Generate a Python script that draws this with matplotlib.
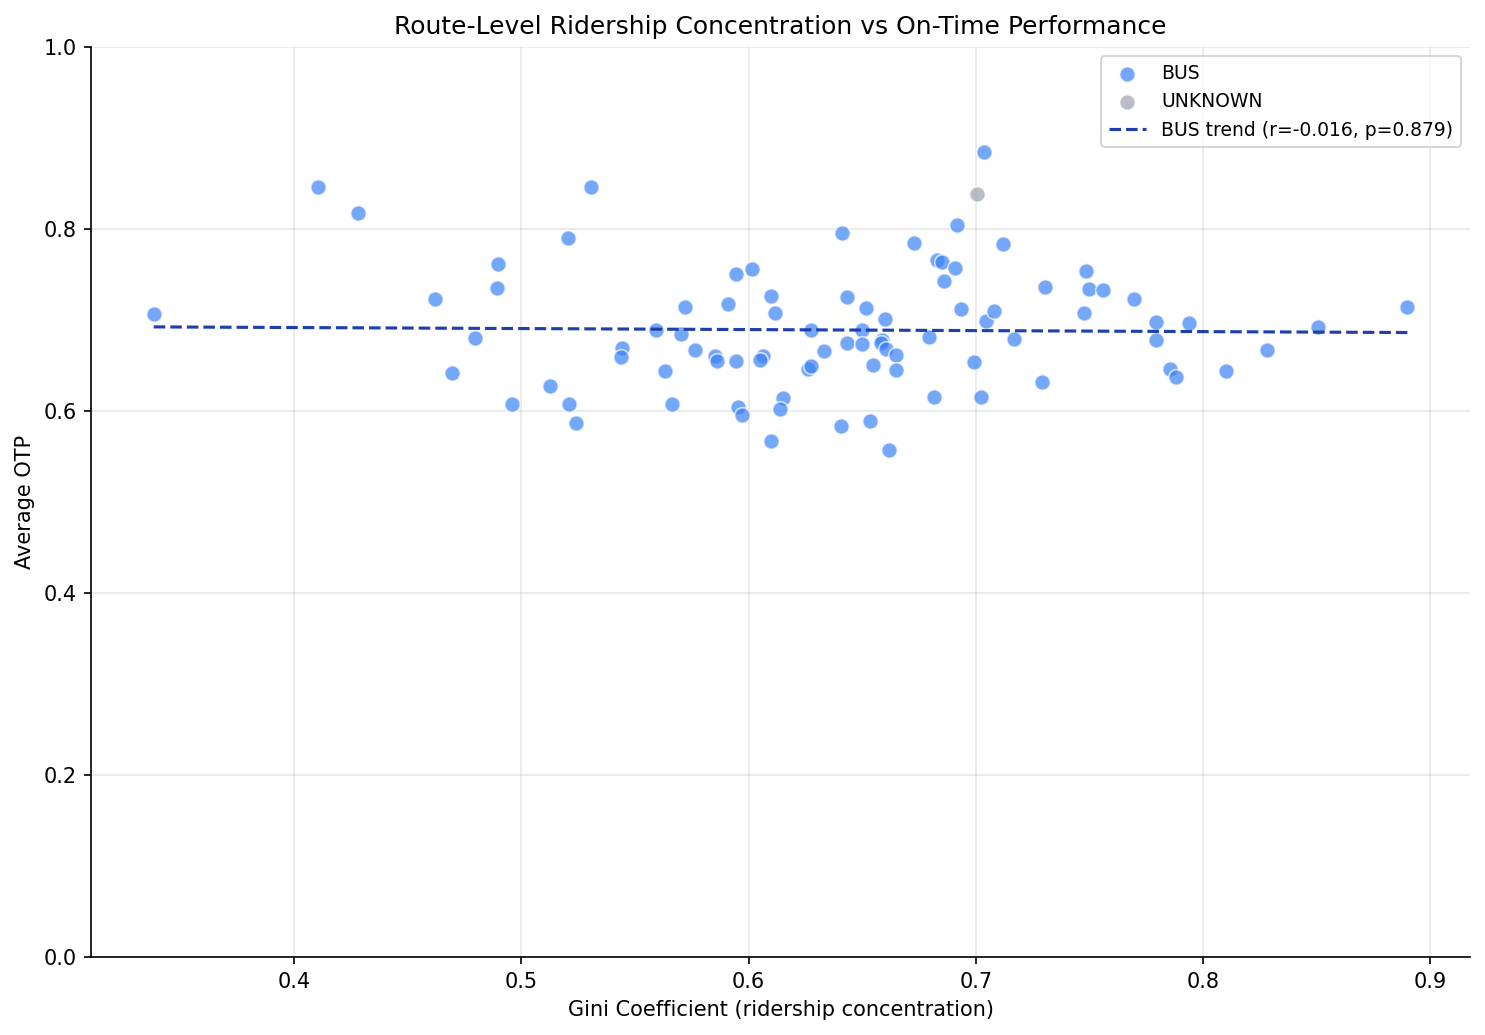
import numpy as np
import matplotlib
matplotlib.use("Agg")
import matplotlib.pyplot as plt

# Gini coefficient vs average on-time performance, one point per route
bus_gini = [0.3382, 0.4106, 0.4282, 0.4618, 0.4895, 0.4891, 0.4794, 0.4693, 0.4958, 0.5125,
            0.5209, 0.5240, 0.5204, 0.5306, 0.5442, 0.5438, 0.5592, 0.5632, 0.5663, 0.5703,
            0.5720, 0.5764, 0.5853, 0.5862, 0.5910, 0.5945, 0.5945, 0.5954, 0.5972, 0.6016,
            0.6064, 0.6051, 0.6100, 0.6117, 0.6153, 0.6140, 0.6100, 0.6260, 0.6276, 0.6276,
            0.6333, 0.6413, 0.6431, 0.6435, 0.6408, 0.6497, 0.6497, 0.6515, 0.6533, 0.6546,
            0.6599, 0.6586, 0.6582, 0.6604, 0.6648, 0.6648, 0.6617, 0.6730, 0.6795, 0.6818,
            0.6829, 0.6851, 0.6862, 0.6910, 0.6915, 0.6933, 0.6994, 0.7038, 0.7021, 0.7046,
            0.7082, 0.7118, 0.7170, 0.7290, 0.7306, 0.7474, 0.7486, 0.7499, 0.7558, 0.7698,
            0.7795, 0.7795, 0.7856, 0.7883, 0.7936, 0.8099, 0.8280, 0.8504, 0.8899]
bus_otp = [0.7061, 0.8464, 0.8172, 0.7226, 0.7611, 0.7347, 0.6807, 0.6422, 0.6072, 0.6279,
           0.6081, 0.5872, 0.7897, 0.8458, 0.6690, 0.6598, 0.6888, 0.6444, 0.6081, 0.6851,
           0.7138, 0.6675, 0.6602, 0.6547, 0.7171, 0.7501, 0.6554, 0.6044, 0.5960, 0.7556,
           0.6609, 0.6565, 0.7259, 0.7082, 0.6147, 0.6026, 0.5674, 0.6466, 0.6499, 0.6895,
           0.6664, 0.7952, 0.7248, 0.6752, 0.5839, 0.6895, 0.6741, 0.7127, 0.5894, 0.6510,
           0.7006, 0.6785, 0.6752, 0.6686, 0.6620, 0.6455, 0.5575, 0.7842, 0.6818, 0.6158,
           0.7659, 0.7633, 0.7424, 0.7571, 0.8040, 0.7116, 0.6543, 0.8844, 0.6158, 0.6994,
           0.7094, 0.7831, 0.6793, 0.6323, 0.7358, 0.7072, 0.7534, 0.7336, 0.7325, 0.7226,
           0.6983, 0.6785, 0.6462, 0.6378, 0.6972, 0.6437, 0.6675, 0.6925, 0.7138]
unknown_gini = [0.7006]
unknown_otp = [0.8382]

trend_label = "BUS trend (r=-0.016, p=0.879)"

fig, ax = plt.subplots(figsize=(9.9, 6.9), dpi=150)
fig.subplots_adjust(left=0.0613, right=0.9899, top=0.9546, bottom=0.0754)

ax.scatter(bus_gini, bus_otp, s=56, color="#3b82f6", alpha=0.7,
           edgecolors="white", linewidths=0.8, label="BUS", zorder=3)
ax.scatter(unknown_gini, unknown_otp, s=56, color="#9ca3af", alpha=0.7,
           edgecolors="white", linewidths=0.8, label="UNKNOWN", zorder=3)

# linear fit for bus routes
x = np.array(bus_gini)
y = np.array(bus_otp)
slope, intercept = np.polyfit(x, y, 1)
xs = np.linspace(x.min(), x.max(), 100)
ax.plot(xs, slope * xs + intercept, "--", color="#1e40af", linewidth=1.5,
        label=trend_label, zorder=4)

ax.set_ylim(0, 1)
ax.set_xlabel("Gini Coefficient (ridership concentration)")
ax.set_ylabel("Average OTP")
ax.set_title("Route-Level Ridership Concentration vs On-Time Performance")
ax.grid(True, alpha=0.3)
ax.spines["top"].set_visible(False)
ax.spines["right"].set_visible(False)
ax.legend(loc="upper right", fontsize=9)

plt.savefig("out.png")
